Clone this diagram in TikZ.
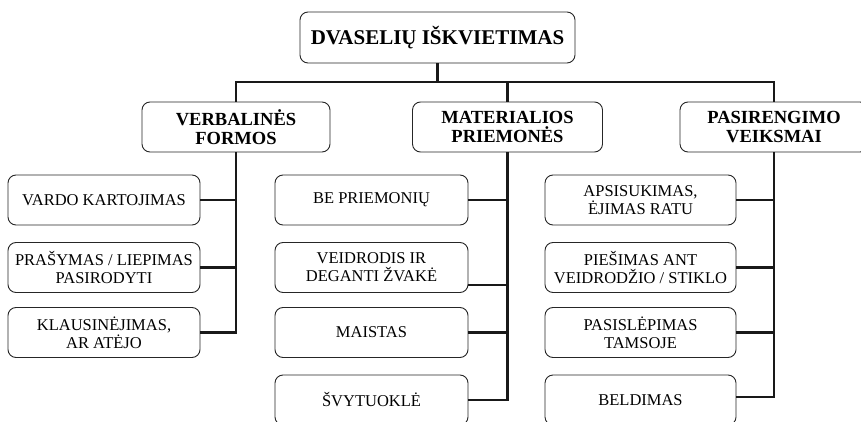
\documentclass[tikz,border=0pt]{standalone}
\usepackage{fontspec}
\setmainfont{Liberation Serif}
\usetikzlibrary{calc}
\begin{document}
\begin{tikzpicture}[x=1pt,y=-1pt,
  box/.style={draw=black!85, line width=0.9pt, rounded corners=8pt, align=center,
    minimum width=192pt, minimum height=50pt, inner sep=0pt,
    font=\fontsize{16.5}{18}\selectfont},
  headbox/.style={box, minimum width=188pt, font=\fontsize{18.5}{19}\selectfont\bfseries},
  titlebox/.style={box, minimum width=275pt, minimum height=51pt, font=\fontsize{21}{22}\selectfont\bfseries},
  conn/.style={draw=black!90, line width=2.4pt, line join=miter}]
\useasboundingbox (0,0) rectangle (861,422);
\clip (0,0) rectangle (861,422);
\coordinate (bar) at (0,82);
% title
\node[titlebox] (top) at (437.5,37.5) {DVASELIŲ IŠKVIETIMAS};
% headers
\node[headbox] (h1) at (236,127) {VERBALINĖS\\FORMOS};
\node[headbox, minimum width=190pt] (h2) at (507.5,127) {MATERIALIOS\\PRIEMONĖS};
\node[headbox] (h3) at (774,127) {PASIRENGIMO\\VEIKSMAI};
% left column
\node[box] (c11) at (104,200) {VARDO KARTOJIMAS};
\node[box] (c12) at (104,267.5) {PRAŠYMAS / LIEPIMAS\\PASIRODYTI};
\node[box] (c13) at (104,332.5) {KLAUSINĖJIMAS,\\AR ATĖJO};
% middle column
\node[box, minimum width=193pt] (c21) at (371.5,200) {BE PRIEMONIŲ};
\node[box, minimum width=193pt] (c22) at (371.5,267.5) {VEIDRODIS IR\\DEGANTI ŽVAKĖ};
\node[box, minimum width=193pt] (c23) at (371.5,332.5) {MAISTAS};
\node[box, minimum width=193pt] (c24) at (371.5,400) {ŠVYTUOKLĖ};
% right column
\node[box, minimum width=191pt] (c31) at (640.5,200) {APSISUKIMAS,\\ĖJIMAS RATU};
\node[box, minimum width=191pt] (c32) at (640.5,267.5) {PIEŠIMAS ANT\\VEIDRODŽIO / STIKLO};
\node[box, minimum width=191pt] (c33) at (640.5,332.5) {PASISLĖPIMAS\\TAMSOJE};
\node[box, minimum width=191pt] (c34) at (640.5,400) {BELDIMAS};
% connectors top
\draw[conn] (top.south) -- (top.south |- bar);
\draw[conn] (h1.north) -- (h1.north |- bar) -- (h3.north |- bar) -- (h3.north);
\draw[conn] (h2.north) -- (h2.north |- bar);
% left column connectors
\draw[conn] (h1.south) -- (h1.south |- c13.east) -- (c13.east);
\draw[conn] (c11.east) -- (c11.east -| h1.south);
\draw[conn] (c12.east) -- (c12.east -| h1.south);
% middle column connectors
\draw[conn] (h2.south) -- (h2.south |- c24.east) -- (c24.east);
\draw[conn] (c21.east) -- (c21.east -| h2.south);
\draw[conn] ([yshift=-17.5pt]c22.east) -- ([yshift=-17.5pt]c22.east -| h2.south);
\draw[conn] (c23.east) -- (c23.east -| h2.south);
% right column connectors
\draw[conn] (h3.south) -- ([yshift=3pt]h3.south |- c34.east) -- ([yshift=3pt]c34.east);
\draw[conn] (c31.east) -- (c31.east -| h3.south);
\draw[conn] (c32.east) -- (c32.east -| h3.south);
\draw[conn] (c33.east) -- (c33.east -| h3.south);
\end{tikzpicture}
\end{document}
